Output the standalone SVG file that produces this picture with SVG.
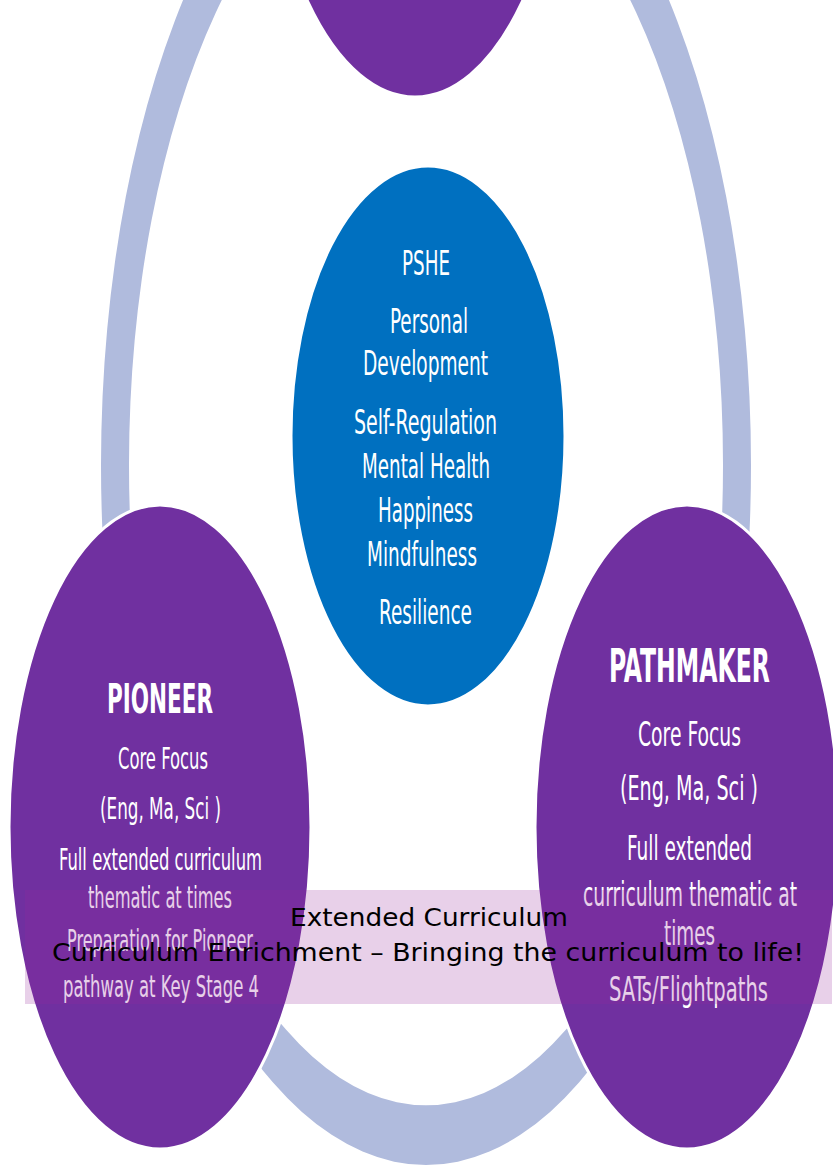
<svg xmlns="http://www.w3.org/2000/svg" width="833" height="1168" viewBox="0 0 833 1168">
<style>
.node{stroke:#FFFFFF;stroke-width:3}
.purple{fill:#7030A0}
.blue{fill:#0070C0}
.t{fill:#FFFFFF;font-family:"DejaVu Sans Condensed","DejaVu Sans",sans-serif;text-anchor:middle}
.b{font-weight:bold}
.k{fill:#000000;font-family:"DejaVu Sans","Verdana",sans-serif;font-size:25px;text-anchor:middle}
</style>
<rect width="833" height="1168" fill="#FFFFFF"/>
<g id="connectors">
<path fill="#B0BBDD" fill-rule="evenodd" d="M101,465 A325,700 0 1,0 751,465 A325,700 0 1,0 101,465 Z M129,465 A297,640 0 1,0 723,465 A297,640 0 1,0 129,465 Z"/>
</g>
<g id="node-top">
<ellipse class="node purple" cx="415" cy="-225" rx="151" ry="322"/>
</g>
<g id="node-pshe">
<ellipse class="node blue" cx="428" cy="436" rx="137" ry="270"/>
<g class="t" font-size="34">
<text x="426" y="275" textLength="48" lengthAdjust="spacingAndGlyphs">PSHE</text>
<text x="429" y="333" textLength="78" lengthAdjust="spacingAndGlyphs">Personal</text>
<text x="425.5" y="375" textLength="125" lengthAdjust="spacingAndGlyphs">Development</text>
<text x="425.5" y="434" textLength="143" lengthAdjust="spacingAndGlyphs">Self-Regulation</text>
<text x="426" y="478" textLength="128" lengthAdjust="spacingAndGlyphs">Mental Health</text>
<text x="425.5" y="522" textLength="95" lengthAdjust="spacingAndGlyphs">Happiness</text>
<text x="422" y="566" textLength="110" lengthAdjust="spacingAndGlyphs">Mindfulness</text>
<text x="425.5" y="624" textLength="93" lengthAdjust="spacingAndGlyphs">Resilience</text>
</g>
</g>
<g id="node-pioneer">
<ellipse class="node purple" cx="160" cy="827" rx="151" ry="322"/>
<g class="t" font-size="30">
<text class="b" x="160" y="713" font-size="41" textLength="106" lengthAdjust="spacingAndGlyphs">PIONEER</text>
<text x="163" y="769" textLength="90" lengthAdjust="spacingAndGlyphs">Core Focus</text>
<text x="160.5" y="819" textLength="121" lengthAdjust="spacingAndGlyphs">(Eng, Ma, Sci )</text>
<text x="160.5" y="870" textLength="203" lengthAdjust="spacingAndGlyphs">Full extended curriculum</text>
<text x="160" y="908" textLength="144" lengthAdjust="spacingAndGlyphs">thematic at times</text>
<text x="160" y="951" textLength="186" lengthAdjust="spacingAndGlyphs">Preparation for Pioneer</text>
<text x="161" y="997" textLength="196" lengthAdjust="spacingAndGlyphs">pathway at Key Stage 4</text>
</g>
</g>
<g id="node-pathmaker">
<ellipse class="node purple" cx="687" cy="827" rx="152" ry="322"/>
<g class="t" font-size="33">
<text class="b" x="689.5" y="682" font-size="47" textLength="161" lengthAdjust="spacingAndGlyphs">PATHMAKER</text>
<text x="689.5" y="746" textLength="103" lengthAdjust="spacingAndGlyphs">Core Focus</text>
<text x="689" y="800" textLength="138" lengthAdjust="spacingAndGlyphs">(Eng, Ma, Sci )</text>
<text x="689.5" y="860" textLength="125" lengthAdjust="spacingAndGlyphs">Full extended</text>
<text x="690" y="906" textLength="214" lengthAdjust="spacingAndGlyphs">curriculum thematic at</text>
<text x="689.5" y="945" textLength="51" lengthAdjust="spacingAndGlyphs">times</text>
<text x="688.5" y="1001" textLength="159" lengthAdjust="spacingAndGlyphs">SATs/Flightpaths</text>
</g>
</g>
<g id="node-banner">
<rect x="25" y="890" width="807" height="114" fill="#962899" fill-opacity="0.22"/>
<text class="k" x="429" y="926" textLength="278" lengthAdjust="spacingAndGlyphs">Extended Curriculum</text>
<text class="k" x="428" y="961" textLength="752" lengthAdjust="spacingAndGlyphs">Curriculum Enrichment – Bringing the curriculum to life!</text>
</g>
</svg>
